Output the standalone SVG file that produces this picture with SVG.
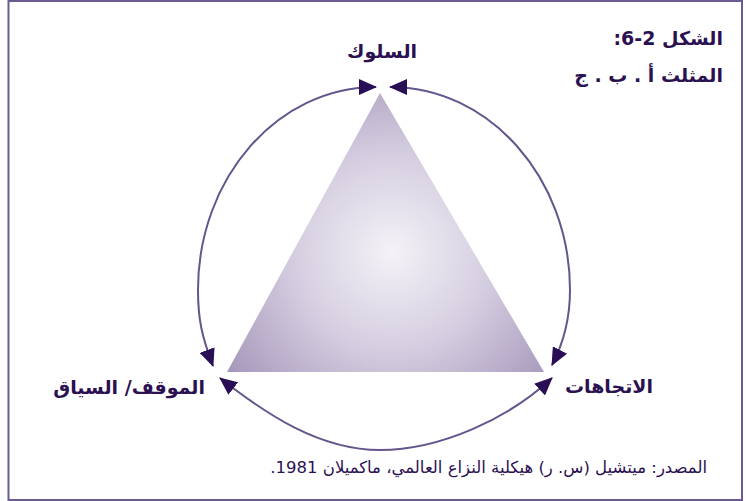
<svg xmlns="http://www.w3.org/2000/svg" width="746" height="501" viewBox="0 0 746 501">
<style>
.lbl{font-family:"DejaVu Sans",sans-serif;font-weight:bold;fill:#2b1152;direction:rtl;}
.src{font-family:"DejaVu Sans",sans-serif;fill:#2b1152;direction:rtl;}
.arc{fill:none;stroke:#65558d;stroke-width:2;marker-start:url(#ah);marker-end:url(#ah);}
</style>
<defs>
<marker id="ah" markerUnits="userSpaceOnUse" viewBox="0 0 18 16" markerWidth="18" markerHeight="16" refX="17" refY="8" orient="auto-start-reverse">
<path d="M0,0 L18,8 L0,16 Z" fill="#2a0e55"/>
</marker>
<radialGradient id="tg" gradientUnits="userSpaceOnUse" cx="392" cy="252" r="210">
<stop offset="0" stop-color="#f4f2f7"/>
<stop offset="0.45" stop-color="#d6cfe1"/>
<stop offset="1" stop-color="#a393b8"/>
</radialGradient>
</defs>
<rect x="0" y="0" width="746" height="501" fill="#ffffff"/>
<rect id="frame" x="8.5" y="1" width="733.5" height="499" fill="none" stroke="#6b5a93" stroke-width="2"/>
<g id="title">
<text class="lbl" x="723" y="45" font-size="19" text-anchor="start">الشكل 2-6:</text>
<text class="lbl" x="723" y="82" font-size="19" text-anchor="start">المثلث أ . ب . ج</text>
</g>
<g id="triangle">
<polygon points="380,93 227,372 544,372" fill="url(#tg)"/>
</g>
<g id="connectors">
<path class="arc" d="M376,87 C277.7,87 198,177.9 198,290 C198,320 202,336.5 213,366"/>
<path class="arc" d="M390,87 C489.4,87 570,178 570,290 C570,320 563.6,343 552,365"/>
<path class="arc" d="M220,378 C267,415 320,450 380,450 C440,450 508,419 552,378"/>
</g>
<g id="node-behavior">
<text class="lbl" x="382" y="58" font-size="19" text-anchor="middle">السلوك</text>
</g>
<g id="node-context">
<text class="lbl" x="205" y="394" font-size="19" text-anchor="start">الموقف/ السياق</text>
</g>
<g id="node-attitudes">
<text class="lbl" x="653" y="393" font-size="19" text-anchor="start">الاتجاهات</text>
</g>
<g id="source">
<text class="src" x="707" y="473" font-size="16.5" text-anchor="start">المصدر: ميتشيل (س. ر) هيكلية النزاع العالمي، ماكميلان 1981.</text>
</g>
</svg>
